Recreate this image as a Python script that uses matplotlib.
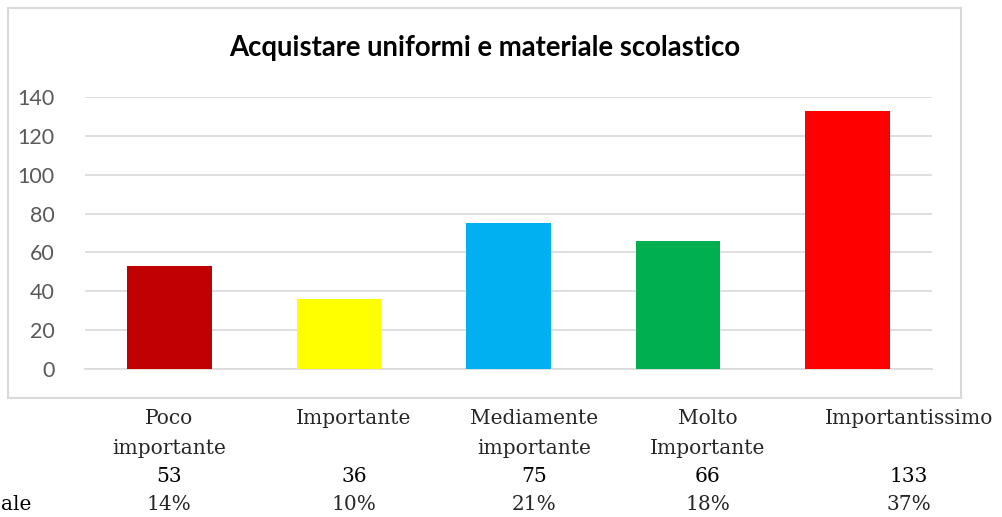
import matplotlib
matplotlib.use("Agg")
import matplotlib.pyplot as plt
from matplotlib.patches import Rectangle

title = "Acquistare uniformi e materiale scolastico"
categories = ["Poco\nimportante", "Importante", "Mediamente\nimportante", "Molto\nImportante", "Importantissimo"]
values = [53, 36, 75, 66, 133]
percent_labels = ["14%", "10%", "21%", "18%", "37%"]
colors = ["#C00000", "#FFFF00", "#00B0F0", "#00B050", "#FF0000"]
yticks = [0, 20, 40, 60, 80, 100, 120, 140]
row_label = "ale"

W, H = 1002, 517
fig = plt.figure(figsize=(W / 100, H / 100), dpi=100)
fig.patch.set_facecolor("white")

def fx(px):
    return px / W

def fy(py):
    return 1 - py / H

# chart border
fig.patches.append(Rectangle((fx(8), fy(398)), fx(961) - fx(8), fy(8) - fy(398),
                             transform=fig.transFigure, fill=False,
                             edgecolor="#D9D9D9", linewidth=1.5))

ax = fig.add_axes([fx(85), fy(369), fx(932) - fx(85), fy(97) - fy(369)])
x = list(range(len(values)))
ax.bar(x, values, width=0.5, color=colors, zorder=3)
ax.set_xlim(-0.5, len(values) - 0.5)
ax.set_ylim(0, 140)
ax.set_yticks(yticks)
ax.set_yticklabels([str(t) for t in yticks], fontfamily="Lato", fontsize=15.5, color="#595959")
ax.tick_params(axis="y", length=0, pad=22)
ax.set_xticks([])
for s in ["top", "right", "left"]:
    ax.spines[s].set_visible(False)
ax.spines["bottom"].set_color("#D9D9D9")
ax.spines["bottom"].set_linewidth(1.2)
ax.grid(axis="y", color="#D9D9D9", linewidth=1.2, zorder=0)
ax.set_axisbelow(True)

fig.text(fx(485), fy(48), title, ha="center", va="center", fontfamily="Lato",
         fontweight="bold", fontsize=19.8, color="#000000")

# data table below the chart
col_centers = [169, 354, 534, 708, 909]
serif = "DejaVu Serif"
fs = 14.5
for cx, cat, v, p in zip(col_centers, categories, values, percent_labels):
    lines = cat.split("\n")
    for i, ln in enumerate(lines):
        fig.text(fx(cx), fy(419 + 29 * i), ln, ha="center", va="center",
                 fontfamily=serif, fontsize=fs, color="#262626")
    fig.text(fx(cx), fy(476), str(v), ha="center", va="center",
             fontfamily=serif, fontsize=fs, color="#000000")
    fig.text(fx(cx), fy(504), p, ha="center", va="center",
             fontfamily=serif, fontsize=fs, color="#262626")
fig.text(fx(31), fy(504), row_label, ha="right", va="center",
         fontfamily=serif, fontsize=fs, color="#000000")

fig.savefig("out.png", dpi=100)
